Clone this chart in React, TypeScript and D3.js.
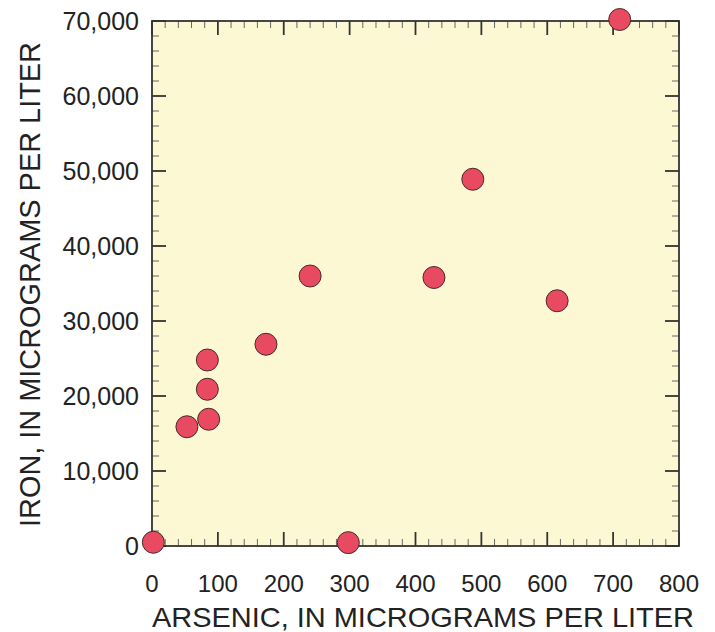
import React from "react";
import * as d3 from "d3";

const arsenic = [2, 298, 710, 487, 240, 428, 615, 173, 84, 84, 86, 53];
const iron = [500, 450, 70200, 48900, 36000, 35800, 32700, 26900, 24800, 20900, 16900, 15900];
const xTicks = [0, 100, 200, 300, 400, 500, 600, 700, 800];
const yTicks = [0, 10000, 20000, 30000, 40000, 50000, 60000, 70000];
const xTitle = "ARSENIC, IN MICROGRAMS PER LITER";
const yTitle = "IRON, IN MICROGRAMS PER LITER";

export default function App() {
  const W = 715, H = 632;
  const L = 152, R = 679, T = 21, B = 546;
  const x = d3.scaleLinear().domain([0, 800]).range([L, R]);
  const y = d3.scaleLinear().domain([0, 70000]).range([B, T]);
  const xMinor = d3.range(0, 801, 20).filter((v) => v % 100 !== 0);
  const yMinor = d3.range(0, 70001, 2000).filter((v) => v % 10000 !== 0);
  const fmt = d3.format(",");
  const font = "Liberation Sans, Arial, Helvetica, sans-serif";
  const tc = "#333";
  return (
    <svg width={W} height={H} style={{ position: "absolute", left: 0, top: 0 }}>
      <rect x={L} y={T} width={R - L} height={B - T} fill="#fdf8d4" />
      {xTicks.map((v) => (
        <g key={"xt" + v}>
          <line x1={x(v)} x2={x(v)} y1={B} y2={B - 14} stroke={tc} strokeWidth={1.8} />
          <line x1={x(v)} x2={x(v)} y1={T} y2={T + 14} stroke={tc} strokeWidth={1.8} />
        </g>
      ))}
      {xMinor.map((v) => (
        <g key={"xm" + v}>
          <line x1={x(v)} x2={x(v)} y1={B} y2={B - 7} stroke="#666" strokeWidth={1} />
          <line x1={x(v)} x2={x(v)} y1={T} y2={T + 7} stroke="#666" strokeWidth={1} />
        </g>
      ))}
      {yTicks.map((v) => (
        <g key={"yt" + v}>
          <line x1={L} x2={L + 14} y1={y(v)} y2={y(v)} stroke={tc} strokeWidth={1.8} />
          <line x1={R} x2={R - 14} y1={y(v)} y2={y(v)} stroke={tc} strokeWidth={1.8} />
        </g>
      ))}
      {yMinor.map((v) => (
        <g key={"ym" + v}>
          <line x1={L} x2={L + 7} y1={y(v)} y2={y(v)} stroke="#666" strokeWidth={1} />
          <line x1={R} x2={R - 7} y1={y(v)} y2={y(v)} stroke="#666" strokeWidth={1} />
        </g>
      ))}
      <rect x={L} y={T} width={R - L} height={B - T} fill="none" stroke={tc} strokeWidth={1.8} />
      {xTicks.map((v) => (
        <text key={"xl" + v} x={x(v)} y={591.5} textAnchor="middle" fontFamily={font} fontSize={24} fill="#222">
          {v}
        </text>
      ))}
      {yTicks.map((v) => (
        <text key={"yl" + v} x={139} y={y(v) + 9} textAnchor="end" fontFamily={font} fontSize={25} fill="#222">
          {fmt(v)}
        </text>
      ))}
      <text
        x={152}
        y={626.5}
        textAnchor="start"
        fontFamily={font}
        fontSize={28.5}
        fill="#222"
        textLength={542}
        lengthAdjust="spacingAndGlyphs"
      >
        {xTitle}
      </text>
      <text
        transform={`translate(40, 527) rotate(-90)`}
        textAnchor="start"
        fontFamily={font}
        fontSize={30}
        fill="#222"
        textLength={485}
        lengthAdjust="spacingAndGlyphs"
      >
        {yTitle}
      </text>
      {arsenic.map((a, i) => (
        <circle key={"p" + i} cx={x(a)} cy={y(iron[i])} r={11} fill="#e84a62" stroke="#4a2a2a" strokeWidth={1} />
      ))}
    </svg>
  );
}
